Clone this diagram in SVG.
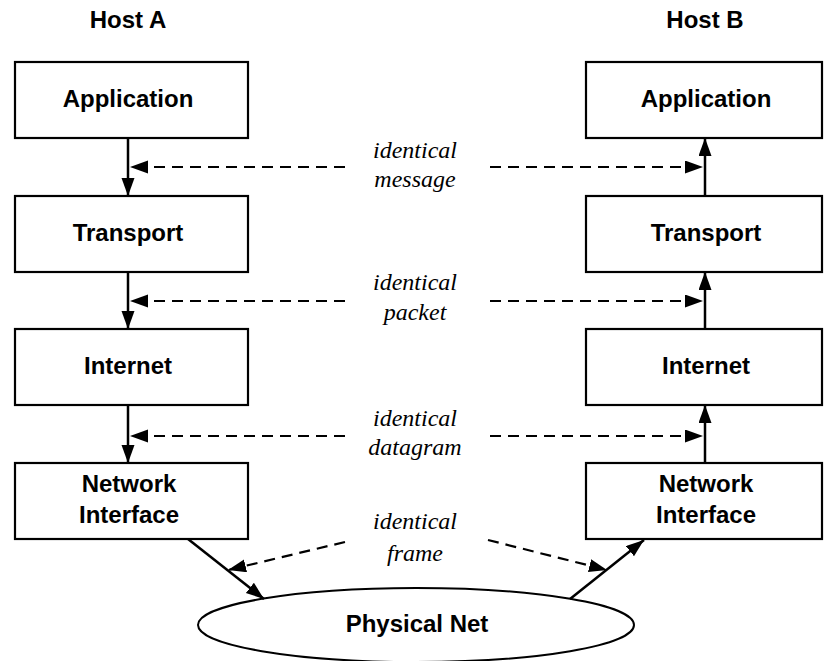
<svg xmlns="http://www.w3.org/2000/svg" width="825" height="661" viewBox="0 0 825 661">
  <style>
    .box { fill: #fff; stroke: #000; stroke-width: 2.2; }
    .lbl { font-family: "Liberation Sans", Arial, sans-serif; font-weight: bold; font-size: 24px; text-anchor: middle; fill: #000; }
    .it { font-family: "Liberation Serif", "Times New Roman", serif; font-style: italic; font-size: 24px; text-anchor: middle; fill: #000; }
    .solid { stroke: #000; stroke-width: 2.5; fill: none; }
    .dash { stroke: #000; stroke-width: 2.2; fill: none; stroke-dasharray: 11 7; }
  </style>
  <defs>
    <marker id="ah" markerUnits="userSpaceOnUse" markerWidth="20" markerHeight="14" refX="18" refY="6.5" orient="auto">
      <path d="M0,0 L18,6.5 L0,13 z" fill="#000"/>
    </marker>
  </defs>
  <rect width="825" height="661" fill="#fff"/>

  <g id="hostA-title"><text class="lbl" x="128" y="28">Host A</text></g>
  <g id="hostB-title"><text class="lbl" x="705" y="28">Host B</text></g>

  <g id="a-app"><rect class="box" x="15" y="62" width="233" height="76"/><text class="lbl" x="128" y="107">Application</text></g>
  <g id="a-transport"><rect class="box" x="15" y="196" width="233" height="76"/><text class="lbl" x="128" y="241">Transport</text></g>
  <g id="a-internet"><rect class="box" x="15" y="329" width="233" height="76"/><text class="lbl" x="128" y="374">Internet</text></g>
  <g id="a-netif"><rect class="box" x="15" y="463" width="233" height="76"/><text class="lbl" x="129" y="492">Network</text><text class="lbl" x="129" y="523">Interface</text></g>

  <g id="b-app"><rect class="box" x="586" y="62" width="236" height="76"/><text class="lbl" x="706" y="107">Application</text></g>
  <g id="b-transport"><rect class="box" x="586" y="196" width="236" height="76"/><text class="lbl" x="706" y="241">Transport</text></g>
  <g id="b-internet"><rect class="box" x="586" y="329" width="236" height="76"/><text class="lbl" x="706" y="374">Internet</text></g>
  <g id="b-netif"><rect class="box" x="586" y="463" width="236" height="76"/><text class="lbl" x="706" y="492">Network</text><text class="lbl" x="706" y="523">Interface</text></g>

  <g id="physical-net"><ellipse cx="416" cy="625" rx="218" ry="37" fill="#fff" stroke="#000" stroke-width="2"/><text class="lbl" x="417" y="632">Physical Net</text></g>

  <g id="labels">
    <text class="it" x="415" y="158">identical</text>
    <text class="it" x="415" y="187">message</text>
    <text class="it" x="415" y="290">identical</text>
    <text class="it" x="415" y="320">packet</text>
    <text class="it" x="415" y="426">identical</text>
    <text class="it" x="415" y="455">datagram</text>
    <text class="it" x="415" y="529">identical</text>
    <text class="it" x="415" y="561">frame</text>
  </g>

  <g id="connectors">
    <line class="solid" x1="128" y1="138" x2="128" y2="196" marker-end="url(#ah)"/>
    <line class="solid" x1="128" y1="272" x2="128" y2="329" marker-end="url(#ah)"/>
    <line class="solid" x1="128" y1="405" x2="128" y2="463" marker-end="url(#ah)"/>
    <line class="solid" x1="705" y1="196" x2="705" y2="138" marker-end="url(#ah)"/>
    <line class="solid" x1="705" y1="329" x2="705" y2="272" marker-end="url(#ah)"/>
    <line class="solid" x1="705" y1="463" x2="705" y2="405" marker-end="url(#ah)"/>
    <line class="solid" x1="188" y1="539" x2="264" y2="599" marker-end="url(#ah)"/>
    <line class="solid" x1="570" y1="599" x2="644" y2="540" marker-end="url(#ah)"/>

    <line class="dash" x1="345" y1="167" x2="130" y2="167" marker-end="url(#ah)"/>
    <line class="dash" x1="490" y1="167" x2="703" y2="167" marker-end="url(#ah)"/>
    <line class="dash" x1="345" y1="301" x2="130" y2="301" marker-end="url(#ah)"/>
    <line class="dash" x1="490" y1="301" x2="703" y2="301" marker-end="url(#ah)"/>
    <line class="dash" x1="345" y1="436" x2="130" y2="436" marker-end="url(#ah)"/>
    <line class="dash" x1="490" y1="436" x2="703" y2="436" marker-end="url(#ah)"/>
    <line class="dash" x1="345" y1="542" x2="228" y2="570" marker-end="url(#ah)"/>
    <line class="dash" x1="488" y1="540" x2="607" y2="570" marker-end="url(#ah)"/>
  </g>
</svg>
